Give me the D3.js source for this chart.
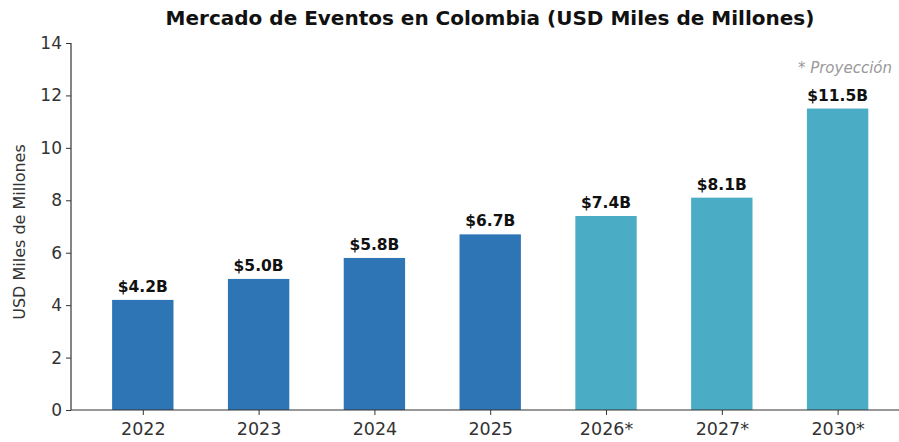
<!DOCTYPE html>
<html>
<head>
<meta charset="utf-8">
<script src="https://cdn.jsdelivr.net/npm/d3@7"></script>
<style>
  html, body { margin: 0; padding: 0; background: #fff; }
  svg { display: block; }
  text { font-family: "DejaVu Sans", sans-serif; }
</style>
</head>
<body>
<svg id="chart" width="899" height="442"></svg>
<script>
const categories = ["2022", "2023", "2024", "2025", "2026*", "2027*", "2030*"];
const values = [4.2, 5.0, 5.8, 6.7, 7.4, 8.1, 11.5];
const labels = ["$4.2B", "$5.0B", "$5.8B", "$6.7B", "$7.4B", "$8.1B", "$11.5B"];
const projected = [false, false, false, false, true, true, true];
const yTicks = [0, 2, 4, 6, 8, 10, 12, 14];

const svg = d3.select("#chart");
const mLeft = 71, mRight = 899, mTop = 43, mBottom = 410;

const x = d3.scaleLinear().domain([-0.62, 6.53]).range([mLeft, mRight]);
const y = d3.scaleLinear().domain([0, 14]).range([mBottom, mTop]);
const barW = x(0.53) - x(0);
const color = p => p ? "#4BACC6" : "#2E75B6";

// bars
svg.append("g").selectAll("rect").data(values).join("rect")
  .attr("x", (d, i) => x(i) - barW / 2)
  .attr("y", d => y(d))
  .attr("width", barW)
  .attr("height", d => y(0) - y(d))
  .attr("fill", (d, i) => color(projected[i]));

// value labels
svg.append("g").selectAll("text").data(values).join("text")
  .attr("x", (d, i) => x(i))
  .attr("y", d => y(d) - 8)
  .attr("text-anchor", "middle")
  .attr("font-size", 15.5)
  .attr("font-weight", "bold")
  .attr("fill", "#111")
  .text((d, i) => labels[i]);

// y axis
const yAxis = d3.axisLeft(y).tickValues(yTicks).tickSize(5).tickPadding(4);
const gy = svg.append("g").attr("transform", `translate(${mLeft},0)`).call(yAxis);
gy.select(".domain").attr("stroke", "#333").attr("stroke-width", 1.2).attr("d", `M0,${mTop}V${mBottom}`);
gy.selectAll(".tick line").attr("stroke", "#333");
gy.selectAll(".tick text").attr("font-size", 17).attr("fill", "#333").attr("font-family", "DejaVu Sans");

// x axis
const xAxis = d3.axisBottom(x).tickValues(d3.range(categories.length))
  .tickFormat(i => categories[i]).tickSize(5).tickPadding(8);
const gx = svg.append("g").attr("transform", `translate(0,${mBottom})`).call(xAxis);
gx.select(".domain").attr("stroke", "#333").attr("stroke-width", 1.2).attr("d", `M${mLeft},0H${mRight}`);
gx.selectAll(".tick line").attr("stroke", "#333");
gx.selectAll(".tick text").attr("font-size", 17.5).attr("fill", "#333").attr("font-family", "DejaVu Sans");

// title
svg.append("text")
  .attr("x", 490).attr("y", 25)
  .attr("text-anchor", "middle")
  .attr("font-size", 20)
  .attr("font-weight", "bold")
  .attr("fill", "#111")
  .text("Mercado de Eventos en Colombia (USD Miles de Millones)");

// y label
svg.append("text")
  .attr("transform", `translate(25,232) rotate(-90)`)
  .attr("text-anchor", "middle")
  .attr("font-size", 16)
  .attr("fill", "#333")
  .text("USD Miles de Millones");

// projection note
svg.append("text")
  .attr("x", 892).attr("y", 73)
  .attr("text-anchor", "end")
  .attr("font-size", 15)
  .attr("font-style", "italic")
  .attr("fill", "#999")
  .text("* Proyección");
</script>
</body>
</html>
